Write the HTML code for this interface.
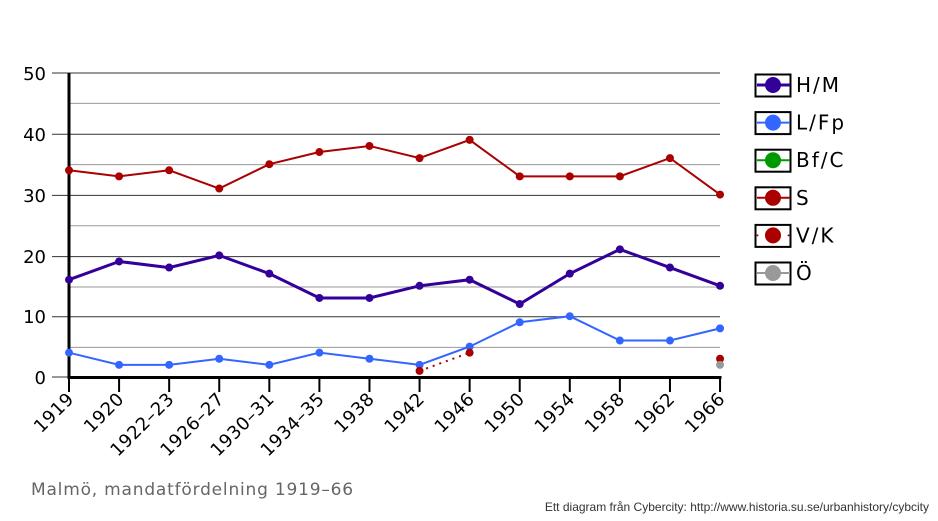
<!DOCTYPE html>
<html><head><meta charset="utf-8"><style>body{margin:0;background:#fff}svg{display:block}</style></head><body>
<svg width="938" height="521" xmlns="http://www.w3.org/2000/svg" font-family="DejaVu Sans, Liberation Sans, sans-serif">
<g stroke-width="1">
<line x1="52" x2="720" y1="73" y2="73" stroke="#333"/>
<line x1="69" x2="720" y1="103.4" y2="103.4" stroke="#999"/>
<line x1="52" x2="720" y1="134.2" y2="134.2" stroke="#333"/>
<line x1="69" x2="720" y1="164.6" y2="164.6" stroke="#999"/>
<line x1="52" x2="720" y1="195.4" y2="195.4" stroke="#333"/>
<line x1="69" x2="720" y1="225.8" y2="225.8" stroke="#999"/>
<line x1="52" x2="720" y1="256.6" y2="256.6" stroke="#333"/>
<line x1="69" x2="720" y1="287" y2="287" stroke="#999"/>
<line x1="52" x2="720" y1="316.8" y2="316.8" stroke="#333"/>
<line x1="69" x2="720" y1="347.4" y2="347.4" stroke="#999"/>
<line x1="52" x2="69" y1="377" y2="377" stroke="#333"/>
</g>
<g font-size="18" text-anchor="end" fill="#000">
<text x="46" y="80">50</text><text x="46" y="141">40</text><text x="46" y="202">30</text><text x="46" y="263">20</text><text x="46" y="323">10</text><text x="46" y="384">0</text>
</g>
<line x1="69" y1="73" x2="69" y2="379" stroke="#000" stroke-width="3"/>
<line x1="67.5" y1="377.5" x2="721.5" y2="377.5" stroke="#000" stroke-width="3"/>
<g stroke="#000" stroke-width="2" id="ticks"></g>
<g id="labels" font-size="18" text-anchor="end" letter-spacing="0.5"></g>
<g id="series"></g>
<text x="31" y="495" font-size="17" fill="#666" letter-spacing="0.8">Malmö, mandatfördelning 1919–66</text>
<text x="929" y="511" font-size="12" text-anchor="end" fill="#333" font-family="Liberation Sans, sans-serif">Ett diagram från Cybercity: http://www.historia.su.se/urbanhistory/cybcity</text>
<g id="legend" font-size="20" letter-spacing="2"></g>
</svg>
<script>
const NS="http://www.w3.org/2000/svg";
function el(t,a,p,txt){const e=document.createElementNS(NS,t);for(const k in a)e.setAttribute(k,a[k]);if(txt)e.textContent=txt;document.getElementById(p).appendChild(e);return e;}
const X=i=>69+50.08*i, Y=v=>377-6.08*v;
const labs=["1919","1920","1922–23","1926–27","1930–31","1934–35","1938","1942","1946","1950","1954","1958","1962","1966"];
labs.forEach((l,i)=>{el("line",{x1:X(i),x2:X(i),y1:377,y2:392},"ticks");el("text",{x:X(i)+6,y:400,transform:`rotate(-45 ${X(i)+6} 400)`},"labels",l);});
function ser(d,c,w,dash){let pts=d.map((v,i)=>v==null?null:[X(i),Y(v)]);let segs=[],cur=[];pts.forEach(p=>{if(p)cur.push(p);else{if(cur.length)segs.push(cur);cur=[];}});if(cur.length)segs.push(cur);
segs.forEach(s=>{if(s.length>1){const a={points:s.map(p=>p.join(",")).join(" "),fill:"none",stroke:c,"stroke-width":w};if(dash)a["stroke-dasharray"]=dash;el("polyline",a,"series");}});
pts.forEach(p=>{if(p)el("circle",{cx:p[0],cy:p[1],r:4,fill:c},"series");});}
ser([4,2,2,3,2,4,3,2,5,9,10,6,6,8],"#3366ff",2);
ser([34,33,34,31,35,37,38,36,39,33,33,33,36,30],"#aa0000",2);
ser([16,19,18,20,17,13,13,15,16,12,17,21,18,15],"#330099",3);
ser([null,null,null,null,null,null,null,1,4,null,null,null,null,3],"#aa0000",2,"2,5");
ser([null,null,null,null,null,null,null,null,null,null,null,null,null,2],"#999999",2);
const leg=[["H/M","#330099",3],["L/Fp","#3366ff",2],["Bf/C","#009900",2],["S","#aa0000",2],["V/K","#aa0000",0],["Ö","#999999",2]];
leg.forEach((L,i)=>{const y=85+37.6*i;
el("rect",{x:755.5,y:y-10.5,width:35,height:22,fill:"#fff",stroke:"#000","stroke-width":2},"legend");
if(L[2])el("line",{x1:757,x2:790,y1:y,y2:y,stroke:L[1],"stroke-width":L[2]},"legend");
else{el("circle",{cx:757.5,cy:y,r:1,fill:L[1]},"legend");el("circle",{cx:788.5,cy:y,r:1,fill:L[1]},"legend");}
el("circle",{cx:773,cy:y,r:8,fill:L[1]},"legend");
el("text",{x:796,y:y+7},"legend",L[0]);});
</script>
</body></html>
